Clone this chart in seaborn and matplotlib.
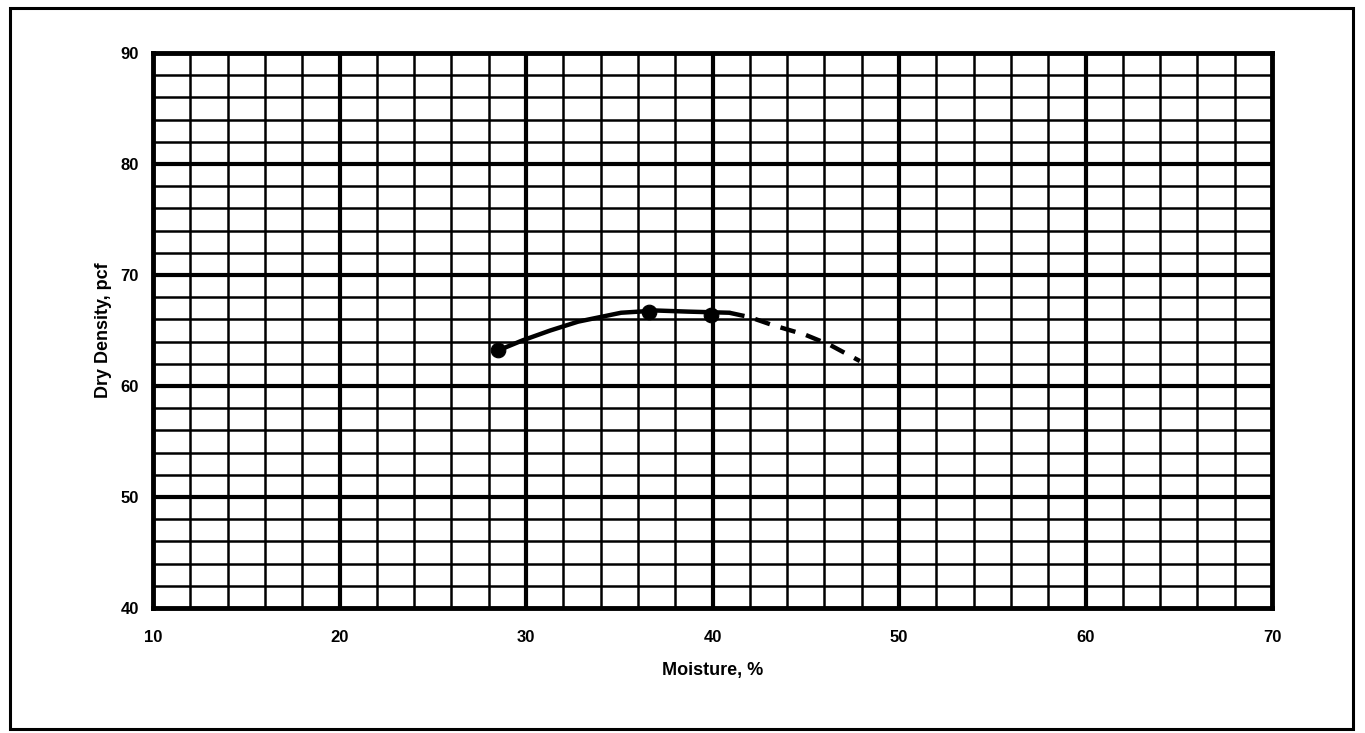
import matplotlib
matplotlib.use("Agg")
import matplotlib.pyplot as plt
from matplotlib.patches import Rectangle
import seaborn as sns
import pandas as pd
import numpy as np

# data
test_moisture = [28.5, 36.6, 39.9]
test_density = [63.2, 66.7, 66.4]

solid_moisture = [28.5, 29.8, 31.3, 32.8, 35.1, 37.0, 38.7, 40.9]
solid_density = [63.2, 64.1, 65.0, 65.8, 66.6, 66.8, 66.7, 66.6]

dashed_moisture = [40.9, 42.0, 43.2, 45.0, 46.3, 47.9]
dashed_density = [66.6, 66.2, 65.5, 64.6, 63.7, 62.25]

x_ticks = [10, 20, 30, 40, 50, 60, 70]
y_ticks = [40, 50, 60, 70, 80, 90]

sns.set_style("white")
plt.rcParams['font.family'] = ['Liberation Sans', 'DejaVu Sans']
plt.rcParams['text.color'] = 'black'
plt.rcParams['axes.labelcolor'] = 'black'
plt.rcParams['xtick.color'] = 'black'
plt.rcParams['ytick.color'] = 'black'

fig = plt.figure(figsize=(13.65, 7.33), dpi=100)
ax = fig.add_axes([153 / 1365, 1 - 608 / 733, (1272 - 153) / 1365, (608 - 53) / 733])

# graph paper grid
for x in np.arange(12, 70, 2):
    ax.axvline(x, color='black', lw=3.0 if x % 10 == 0 else 1.8, zorder=1)
for y in np.arange(42, 90, 2):
    ax.axhline(y, color='black', lw=3.0 if y % 10 == 0 else 1.8, zorder=1)

solid = pd.DataFrame({'moisture': solid_moisture, 'density': solid_density})
dashed = pd.DataFrame({'moisture': dashed_moisture, 'density': dashed_density})
points = pd.DataFrame({'moisture': test_moisture, 'density': test_density})

sns.lineplot(data=solid, x='moisture', y='density', color='black', lw=3.2,
             sort=False, ax=ax, zorder=3)
sns.lineplot(data=dashed, x='moisture', y='density', color='black', lw=3.2,
             sort=False, ax=ax, zorder=3, linestyle=(0, (3.5, 2.5)))
sns.scatterplot(data=points, x='moisture', y='density', color='black', s=110,
                edgecolor='black', ax=ax, zorder=4)

ax.set_xlim(10, 70)
ax.set_ylim(40, 90)
ax.set_xticks(x_ticks)
ax.set_yticks(y_ticks)
ax.set_xticklabels([str(t) for t in x_ticks], fontsize=12, fontweight='bold')
ax.set_yticklabels([str(t) for t in y_ticks], fontsize=12, fontweight='bold')
ax.tick_params(axis='both', direction='out', length=6, width=2, color='black', pad=10)
ax.tick_params(axis='y', pad=4)
for s in ax.spines.values():
    s.set_visible(True)
    s.set_color('black')
    s.set_linewidth(3.5)

ax.set_xlabel('Moisture, %', fontsize=13, fontweight='bold', labelpad=12)
ax.set_ylabel('Dry Density, pcf', fontsize=13, fontweight='bold', labelpad=6)

# outer frame
fig.patches.append(Rectangle((10 / 1365, 4 / 733), 1343 / 1365, 721 / 733,
                             transform=fig.transFigure, fill=False,
                             edgecolor='black', lw=2.2))

fig.savefig('out.png', dpi=100)
